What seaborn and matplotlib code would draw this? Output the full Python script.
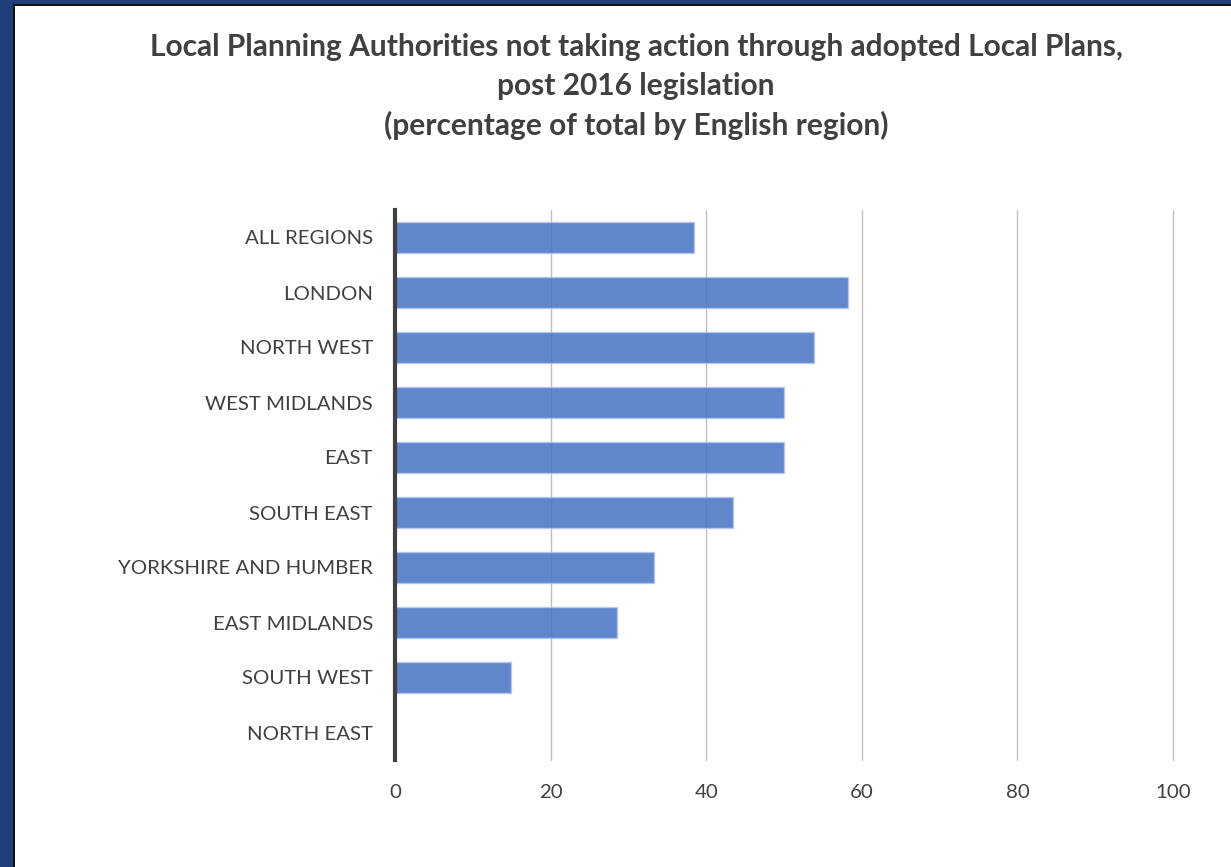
import matplotlib
matplotlib.use("Agg")
import matplotlib.pyplot as plt
import seaborn as sns
import pandas as pd
from matplotlib.patches import Rectangle

regions = ["ALL REGIONS", "LONDON", "NORTH WEST", "WEST MIDLANDS", "EAST",
           "SOUTH EAST", "YORKSHIRE AND HUMBER", "EAST MIDLANDS", "SOUTH WEST",
           "NORTH EAST"]
percent = [38.4, 58.2, 53.8, 50.0, 50.0, 43.4, 33.3, 28.5, 14.9, 0.0]
x_ticks = [0, 20, 40, 60, 80, 100]
title_lines = ["Local Planning Authorities not taking action through adopted Local Plans,",
               "post 2016 legislation",
               "(percentage of total by English region)"]

sns.set_theme(style="white")
plt.rcParams['font.family'] = ['Lato', 'DejaVu Sans']

df = pd.DataFrame({"region": regions, "percent": percent})

W, H = 1231, 867
fig = plt.figure(figsize=(W / 100, H / 100), dpi=100)
fig.patch.set_facecolor("white")
ax = fig.add_axes([395 / W, 1 - 760 / H, (1173 - 395) / W, (760 - 210) / H])

sns.barplot(data=df, y="region", x="percent", orient="h", ax=ax,
            color="#4472C4", saturation=1, alpha=0.85, width=0.58,
            edgecolor="#b4c7ea", linewidth=1.0, zorder=3)

ax.set_xlim(0, 100)
ax.set_ylim(9.5, -0.5)
ax.set_xticks(x_ticks)
ax.set_xticklabels([str(t) for t in x_ticks])
ax.xaxis.grid(True, color="#c0c0c0", linewidth=1.0, zorder=0)
for gl in ax.xaxis.get_gridlines():
    gl.set_clip_on(False)
ax.set_axisbelow(True)
ax.set_xlabel("")
ax.set_ylabel("")
for s in ["top", "right", "bottom"]:
    ax.spines[s].set_visible(False)
ax.spines["left"].set_color("#404040")
ax.spines["left"].set_linewidth(3)
ax.spines["left"].set_zorder(5)
ax.tick_params(axis="x", length=0, pad=17, labelsize=14.7, labelcolor="#404040")
ax.tick_params(axis="y", length=0, pad=16, labelsize=14.7, labelcolor="#404040")

for i, line in enumerate(title_lines):
    fig.text(636 / W, 1 - (47 + 39 * i) / H, line, ha="center", va="center",
             fontsize=21.5, fontweight="bold", color="#404040")

# frame: blue band on left and top, thin black line inside
fig.patches.append(Rectangle((0, 0), 13 / W, 1, transform=fig.transFigure,
                             facecolor="#213f7a", edgecolor="none", zorder=10))
fig.patches.append(Rectangle((0, 1 - 4 / H), 1, 4 / H, transform=fig.transFigure,
                             facecolor="#213f7a", edgecolor="none", zorder=10))
fig.patches.append(Rectangle((13 / W, 0), 2 / W, 1 - 4 / H, transform=fig.transFigure,
                             facecolor="#111111", edgecolor="none", zorder=10))
fig.patches.append(Rectangle((13 / W, 1 - 6 / H), 1 - 13 / W, 2 / H, transform=fig.transFigure,
                             facecolor="#111111", edgecolor="none", zorder=10))

fig.savefig("out.png", dpi=100)
